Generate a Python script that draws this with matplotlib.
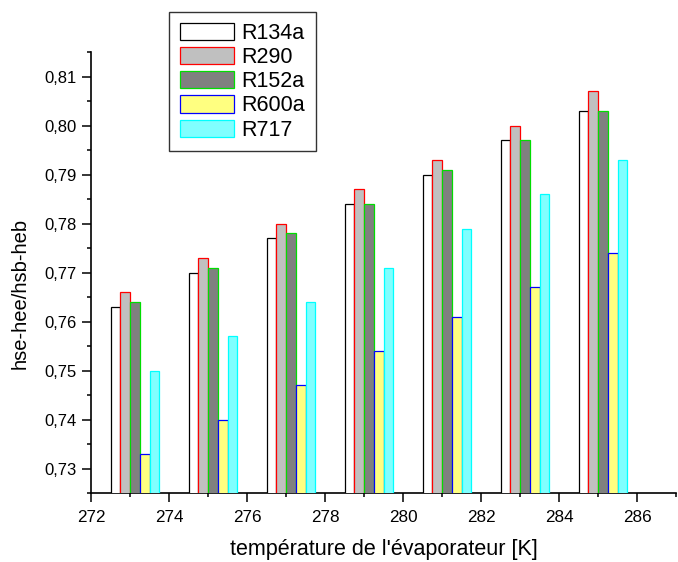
import matplotlib
matplotlib.use("Agg")
import matplotlib.pyplot as plt
from matplotlib.ticker import MultipleLocator, FuncFormatter
from matplotlib.patches import Patch

plt.rcParams['font.family'] = ['Liberation Sans', 'DejaVu Sans']

temperatures = [273, 275, 277, 279, 281, 283, 285]
series_names = ["R134a", "R290", "R152a", "R600a", "R717"]
R134a = [0.763, 0.770, 0.777, 0.784, 0.790, 0.797, 0.803]
R290 = [0.766, 0.773, 0.780, 0.787, 0.793, 0.800, 0.807]
R152a = [0.764, 0.771, 0.778, 0.784, 0.791, 0.797, 0.803]
R600a = [0.733, 0.740, 0.747, 0.754, 0.761, 0.767, 0.774]
R717 = [0.750, 0.757, 0.764, 0.771, 0.779, 0.786, 0.793]
series_values = [R134a, R290, R152a, R600a, R717]

fill_colors = ["#FFFFFF", "#C0C0C0", "#808080", "#FFFF80", "#80FFFF"]
edge_colors = ["#000000", "#FF0000", "#00DD00", "#0000FF", "#00FFFF"]

fig = plt.figure(figsize=(6.78, 5.62), dpi=100)
ax = fig.add_axes([91/678, 1 - 493/562, (676 - 91)/678, (493 - 52.3)/562])

width = 0.25
for i, (name, vals) in enumerate(zip(series_names, series_values)):
    xs = [t - 0.5 + width * i + width / 2 for t in temperatures]
    ax.bar(xs, vals, width=width, color=fill_colors[i], edgecolor=edge_colors[i],
           linewidth=0.9, zorder=3, label=name)

ax.set_xlim(272, 287)
ax.set_ylim(0.725, 0.815)

for s in ['top', 'right']:
    ax.spines[s].set_visible(False)
for s in ['left', 'bottom']:
    ax.spines[s].set_linewidth(1.2)

ax.xaxis.set_major_locator(MultipleLocator(2))
ax.xaxis.set_minor_locator(MultipleLocator(1))
ax.yaxis.set_major_locator(MultipleLocator(0.01))
ax.yaxis.set_minor_locator(MultipleLocator(0.005))
ax.yaxis.set_major_formatter(FuncFormatter(lambda v, p: f"{v:.2f}".replace('.', ',')))
ax.xaxis.set_major_formatter(FuncFormatter(lambda v, p: f"{v:.0f}"))

ax.tick_params(which='major', direction='out', length=6.5, width=1.1)
ax.tick_params(which='minor', direction='out', length=3.2, width=1.1)
ax.tick_params(axis='x', labelsize=12.3, pad=6)
ax.tick_params(axis='y', labelsize=12, pad=4)

ax.set_xlabel("température de l'évaporateur [K]", fontsize=15.5, labelpad=10)
ax.set_ylabel("hse-hee/hsb-heb", fontsize=14.5)
ax.yaxis.set_label_coords(-0.105, 0.453)

handles = [Patch(facecolor=fill_colors[i], edgecolor=edge_colors[i], linewidth=0.9)
           for i in range(len(series_names))]
leg = fig.legend(handles, series_names, loc='upper left',
                 bbox_to_anchor=(169/678, 1 - 12/562), fontsize=15.5,
                 frameon=True, fancybox=False, shadow=False,
                 handlelength=2.5, handleheight=0.84, labelspacing=0.15,
                 handletextpad=0.35, borderpad=0.5, borderaxespad=0)
leg.get_frame().set_edgecolor('black')
leg.get_frame().set_linewidth(1.0)

fig.savefig("out.png", dpi=100)
